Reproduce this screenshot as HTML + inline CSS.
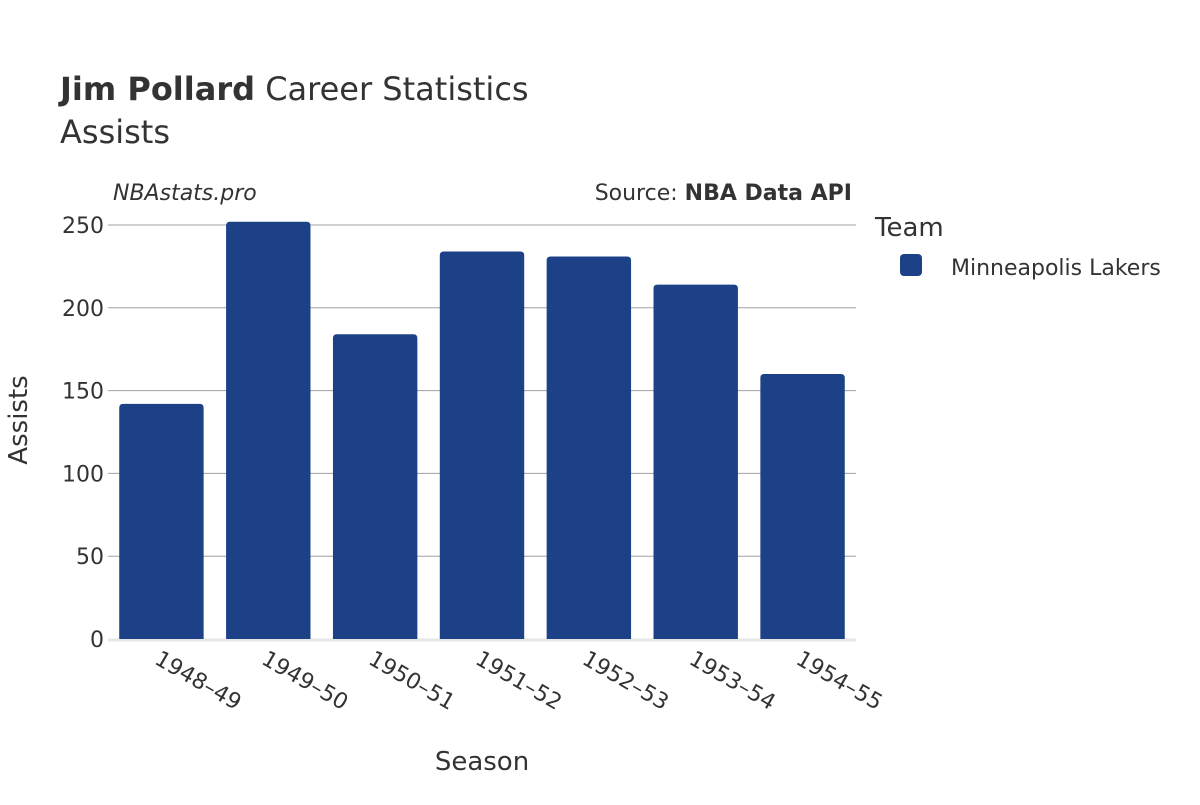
<!DOCTYPE html>
<html><head><meta charset="utf-8"><style>
body{margin:0;background:#fff;}
svg{font-family:"DejaVu Sans","Liberation Sans",sans-serif;}
</style></head><body>
<svg id="chart" width="1200" height="800">
<text x="60" y="100" font-size="32" fill="#333"><tspan font-weight="bold">Jim Pollard</tspan> Career Statistics</text>
<text x="60" y="143" font-size="32" fill="#333">Assists</text>
<text x="113" y="200" font-size="22" font-style="italic" fill="#333">NBAstats.pro</text>
<text x="852" y="200" font-size="22" fill="#333" text-anchor="end">Source: <tspan font-weight="bold">NBA Data API</tspan></text>
<g id="grid"></g>
<g id="bars"></g>
<g id="xlabels"></g>
<text x="482" y="770" font-size="26" fill="#333" text-anchor="middle">Season</text>
<text transform="translate(27,420) rotate(-90)" font-size="26" fill="#333" text-anchor="middle">Assists</text>
<text x="875" y="236" font-size="26" fill="#333">Team</text>
<rect x="900" y="254" width="22" height="22" rx="4" fill="#1c4187"/>
<text x="951" y="275" font-size="22" fill="#333">Minneapolis Lakers</text>
</svg>
<script>
const seasons=["1948–49","1949–50","1950–51","1951–52","1952–53","1953–54","1954–55"];
const assists=[142,252,184,234,231,214,160];
const yTicks=[0,50,100,150,200,250];
const ns="http://www.w3.org/2000/svg";
const x0=108,x1=856,y0=639,yTop=225,yMaxVal=250;
const yScale=v=>y0-(v/yMaxVal)*(y0-yTop);
const step=(x1-x0)/seasons.length;
const bw=step*0.79;
const grid=document.getElementById('grid'),bars=document.getElementById('bars'),xl=document.getElementById('xlabels');
yTicks.forEach(t=>{
  const y=yScale(t);
  if(t>0){const l=document.createElementNS(ns,'line');
  l.setAttribute('x1',x0);l.setAttribute('x2',x1);l.setAttribute('y1',y);l.setAttribute('y2',y);
  l.setAttribute('stroke','#a0a0a0');l.setAttribute('stroke-width','1');
  
  
  grid.appendChild(l);}
  const tx=document.createElementNS(ns,'text');
  tx.setAttribute('x',x0-4);tx.setAttribute('y',y+8);tx.setAttribute('text-anchor','end');
  tx.setAttribute('font-size','22');tx.setAttribute('fill','#333');tx.textContent=t;
  
  
  grid.appendChild(tx);
});
const base=document.createElementNS(ns,'line');
base.setAttribute('x1',x0);base.setAttribute('x2',x1);base.setAttribute('y1',y0+1);base.setAttribute('y2',y0+1);
base.setAttribute('stroke','#e6e6e6');base.setAttribute('stroke-width','3');


grid.appendChild(base);
seasons.forEach((s,i)=>{
  const cx=x0+step*(i+0.5);
  const y=yScale(assists[i]);
  const h=y0-y,x=cx-bw/2,r=4;
  const p=document.createElementNS(ns,'path');
  p.setAttribute('d',`M${x},${y0} L${x},${y+r} Q${x},${y} ${x+r},${y} L${x+bw-r},${y} Q${x+bw},${y} ${x+bw},${y+r} L${x+bw},${y0} Z`);
  p.setAttribute('fill','#1c4187');
  
  
  bars.appendChild(p);
  const t=document.createElementNS(ns,'text');
  t.setAttribute('transform',`translate(${cx-8},${y0+24}) rotate(30)`);
  t.setAttribute('font-size','22');t.setAttribute('fill','#333');t.textContent=s;
  
  
  xl.appendChild(t);
});
</script>
</body></html>
